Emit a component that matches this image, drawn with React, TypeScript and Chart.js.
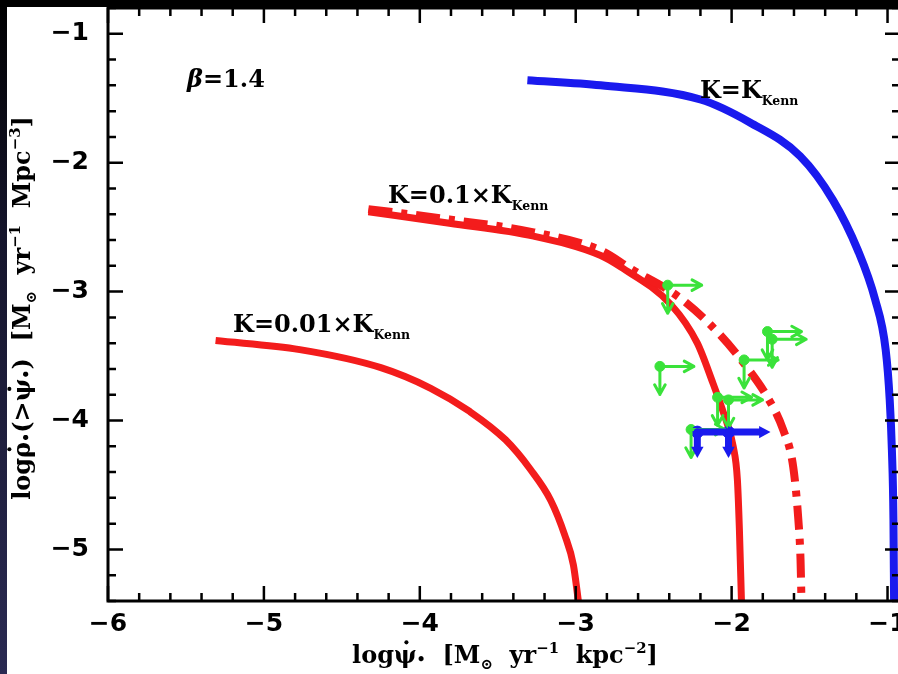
import React, { useEffect, useRef } from "react";
import { Chart, registerables } from "chart.js";

Chart.register(...registerables);

// Axis ranges and tick marks
const xMin = -6;
const xMax = -0.92;
const yMin = -5.4;
const yMax = -0.8;
const xTickValues = [-6, -5, -4, -3, -2, -1];
const yTickValues = [-5, -4, -3, -2, -1];
const minorStep = 0.2;

// K = K_Kenn (solid blue)
const kennX = [-3.31, -2.84, -2.2, -1.88, -1.56, -1.35, -1.19, -1.08, -1.012, -0.986, -0.972, -0.962, -0.958];
const kennY = [-1.36, -1.40, -1.51, -1.69, -1.95, -2.29, -2.68, -3.06, -3.45, -3.84, -4.23, -4.77, -5.40];

// K = 0.1 x K_Kenn (solid red)
const k01X = [-4.33, -3.81, -3.27, -2.84, -2.71, -2.39, -2.22, -2.12, -2.055, -1.99, -1.963, -1.95, -1.937];
const k01Y = [-2.38, -2.47, -2.57, -2.72, -2.81, -3.10, -3.40, -3.71, -3.93, -4.20, -4.46, -4.85, -5.40];

// K = 0.1 x K_Kenn, alternative model (red dash-dot)
const k01bX = [-4.33, -3.81, -3.27, -2.84, -2.65, -2.33, -2.07, -1.90, -1.77, -1.67, -1.605, -1.572, -1.558, -1.552];
const k01bY = [-2.36, -2.44, -2.54, -2.68, -2.82, -3.05, -3.34, -3.59, -3.82, -4.07, -4.36, -4.77, -5.08, -5.40];

// K = 0.01 x K_Kenn (solid red)
const k001X = [-5.31, -4.77, -4.25, -3.93, -3.68, -3.45, -3.29, -3.16, -3.07, -3.015, -2.983];
const k001Y = [-3.38, -3.45, -3.59, -3.75, -3.93, -4.15, -4.38, -4.62, -4.89, -5.12, -5.40];

// Limits (points with arrows to the right and downward)
const greenX = [-2.41, -1.77, -1.74, -1.92, -2.46, -2.09, -2.02, -2.26];
const greenY = [-2.95, -3.31, -3.37, -3.53, -3.58, -3.82, -3.84, -4.07];
const blueX = [-2.22, -2.02];
const blueY = [-4.09, -4.09];

// Curve annotations: [text, subscript, x, y]
const curveLabels: [string, string, number, number][] = [
  ["K=K", "Kenn", -2.203, -1.498],
  ["K=0.1\u00d7K", "Kenn", -4.204, -2.313],
  ["K=0.01\u00d7K", "Kenn", -5.198, -3.313],
];
const betaLabel = { x: -5.493, y: -1.413, value: "1.4" };

const RED = "#f31c1c";
const BLUE = "#1a1aee";
const GREEN = "#3ae23a";
const SERIF = "'DejaVu Serif', serif";

const toPts = (xs: number[], ys: number[]) => xs.map((v, i) => ({ x: v, y: ys[i] }));

const fmt = (v: number | string) => {
  const n = Number(v);
  return n < 0 ? "\u2212" + Math.abs(n) : String(n);
};

type Seg = { t: string; k?: number; dy?: number; dot?: boolean; it?: boolean };

function drawRich(ctx: CanvasRenderingContext2D, segs: Seg[], x: number, y: number, size: number, align: "left" | "center") {
  const fontOf = (s: Seg) => `${s.it ? "italic " : ""}bold ${size * (s.k ?? 1)}px ${SERIF}`;
  let w = 0;
  for (const s of segs) {
    ctx.font = fontOf(s);
    w += ctx.measureText(s.t).width;
  }
  let cx = align === "center" ? x - w / 2 : x;
  ctx.textAlign = "left";
  ctx.textBaseline = "alphabetic";
  for (const s of segs) {
    const fs = size * (s.k ?? 1);
    ctx.font = fontOf(s);
    const sw = ctx.measureText(s.t).width;
    ctx.fillText(s.t, cx, y + (s.dy ?? 0) * size);
    if (s.dot) {
      ctx.beginPath();
      ctx.arc(cx + sw * 0.55, y - fs * 0.86, fs * 0.085, 0, Math.PI * 2);
      ctx.fill();
    }
    cx += sw;
  }
}

function arrow(ctx: CanvasRenderingContext2D, x0: number, y0: number, x1: number, y1: number, head: number, filled: boolean) {
  const ang = Math.atan2(y1 - y0, x1 - x0);
  const a1 = ang + Math.PI - 0.5;
  const a2 = ang + Math.PI + 0.5;
  if (filled) {
    const bx = x1 - head * 0.7 * Math.cos(ang);
    const by = y1 - head * 0.7 * Math.sin(ang);
    ctx.beginPath();
    ctx.moveTo(x0, y0);
    ctx.lineTo(bx, by);
    ctx.stroke();
    ctx.beginPath();
    ctx.moveTo(x1, y1);
    ctx.lineTo(x1 + head * Math.cos(a1), y1 + head * Math.sin(a1));
    ctx.lineTo(x1 + head * Math.cos(a2), y1 + head * Math.sin(a2));
    ctx.closePath();
    ctx.fill();
  } else {
    ctx.beginPath();
    ctx.moveTo(x0, y0);
    ctx.lineTo(x1, y1);
    ctx.moveTo(x1 + head * Math.cos(a1), y1 + head * Math.sin(a1));
    ctx.lineTo(x1, y1);
    ctx.lineTo(x1 + head * Math.cos(a2), y1 + head * Math.sin(a2));
    ctx.stroke();
  }
}

// Arrows marking the limits on the observed points
const limitArrows = {
  id: "limitArrows",
  afterDatasetsDraw(chart: any) {
    const { ctx, scales } = chart;
    const sx = scales.x;
    const sy = scales.y;
    const draw = (xs: number[], ys: number[], color: string, lw: number, lenR: number, lenD: number, head: number, filled: boolean) => {
      ctx.save();
      ctx.strokeStyle = color;
      ctx.fillStyle = color;
      ctx.lineWidth = lw;
      ctx.lineCap = "round";
      ctx.lineJoin = "round";
      xs.forEach((xv, i) => {
        const px = sx.getPixelForValue(xv);
        const py = sy.getPixelForValue(ys[i]);
        arrow(ctx, px, py, px + lenR, py, head, filled);
        arrow(ctx, px, py, px, py + lenD, head, filled);
      });
      ctx.restore();
    };
    draw(greenX, greenY, GREEN, 3, 34, 28, 11, false);
    draw(blueX, blueY, BLUE, 7, 42, 26, 13, true);
  },
};

// Box frame with inward major and minor ticks on all four sides
const frameTicks = {
  id: "frameTicks",
  afterDatasetsDraw(chart: any) {
    const { ctx, chartArea: a, scales } = chart;
    const sx = scales.x;
    const sy = scales.y;
    ctx.save();
    ctx.strokeStyle = "#000";
    ctx.lineWidth = 3;
    ctx.strokeRect(a.left, a.top, a.right - a.left, a.bottom - a.top);
    ctx.lineWidth = 2.5;
    ctx.beginPath();
    const nx = Math.round((xMax - xMin) / minorStep);
    for (let i = 0; i <= nx; i++) {
      const v = xMin + i * minorStep;
      if (v > xMax) break;
      const major = Math.abs(v - Math.round(v)) < 1e-6;
      const len = major ? 15 : 8;
      const px = sx.getPixelForValue(v);
      ctx.moveTo(px, a.bottom);
      ctx.lineTo(px, a.bottom - len);
      ctx.moveTo(px, a.top);
      ctx.lineTo(px, a.top + len);
    }
    const ny = Math.round((yMax - yMin) / minorStep);
    for (let i = 0; i <= ny; i++) {
      const v = yMin + i * minorStep;
      const major = Math.abs(v - Math.round(v)) < 1e-6;
      const len = major ? 15 : 8;
      const py = sy.getPixelForValue(v);
      ctx.moveTo(a.left, py);
      ctx.lineTo(a.left + len, py);
      ctx.moveTo(a.right, py);
      ctx.lineTo(a.right - len, py);
    }
    ctx.stroke();
    ctx.restore();
  },
};

// Axis titles and curve annotations
const textLayer = {
  id: "textLayer",
  afterDraw(chart: any) {
    const { ctx, scales } = chart;
    const sx = scales.x;
    const sy = scales.y;
    ctx.save();
    ctx.fillStyle = "#000";

    const xTitle: Seg[] = [
      { t: "log" },
      { t: "\u03c8", dot: true },
      { t: "\u2022", k: 0.6, dy: 0.05 },
      { t: "  [M" },
      { t: "\u2299", k: 0.62, dy: 0.25 },
      { t: "  yr" },
      { t: "\u22121", k: 0.62, dy: -0.42 },
      { t: "  kpc" },
      { t: "\u22122", k: 0.62, dy: -0.42 },
      { t: "]" },
    ];
    drawRich(ctx, xTitle, 505, 663, 24, "center");

    const yTitle: Seg[] = [
      { t: "log" },
      { t: "\u03c1", dot: true },
      { t: "\u2022", k: 0.6, dy: 0.05 },
      { t: "(>" },
      { t: "\u03c8", dot: true },
      { t: "\u2022", k: 0.6, dy: 0.05 },
      { t: ")  [M" },
      { t: "\u2299", k: 0.62, dy: 0.25 },
      { t: "  yr" },
      { t: "\u22121", k: 0.62, dy: -0.42 },
      { t: "  Mpc" },
      { t: "\u22123", k: 0.62, dy: -0.42 },
      { t: "]" },
    ];
    ctx.save();
    ctx.translate(30, 308);
    ctx.rotate(-Math.PI / 2);
    drawRich(ctx, yTitle, 0, 0, 24, "center");
    ctx.restore();

    // beta label
    drawRich(
      ctx,
      [{ t: "\u03b2", it: true }, { t: "=" + betaLabel.value }],
      sx.getPixelForValue(betaLabel.x),
      sy.getPixelForValue(betaLabel.y),
      24,
      "left"
    );

    for (const [main, sub, lx, ly] of curveLabels) {
      drawRich(
        ctx,
        [{ t: main }, { t: sub, k: 0.52, dy: 0.3 }],
        sx.getPixelForValue(lx),
        sy.getPixelForValue(ly),
        24,
        "left"
      );
    }
    ctx.restore();
  },
};

export default function App() {
  const ref = useRef<HTMLCanvasElement | null>(null);

  useEffect(() => {
    if (!ref.current) return;
    const tickFont = { family: "'DejaVu Sans', sans-serif", size: 25, weight: "bold" as const };
    // invisible axis ticks only offset the labels; the visible ticks are drawn inward by frameTicks
    const hiddenGrid = (len: number) => ({
      display: true,
      drawOnChartArea: false,
      drawTicks: true,
      tickLength: len,
      color: "rgba(0,0,0,0)",
    });
    const chart = new Chart(ref.current, {
      type: "scatter",
      data: {
        datasets: [
          {
            label: "limits (blue)",
            data: toPts(blueX, blueY),
            pointRadius: 6,
            pointBackgroundColor: BLUE,
            pointBorderColor: BLUE,
            showLine: false,
          },
          {
            label: "limits (green)",
            data: toPts(greenX, greenY),
            pointRadius: 5,
            pointBackgroundColor: GREEN,
            pointBorderColor: GREEN,
            showLine: false,
          },
          {
            label: "K=K_Kenn",
            data: toPts(kennX, kennY),
            showLine: true,
            borderColor: BLUE,
            borderWidth: 8,
            pointRadius: 0,
            cubicInterpolationMode: "monotone",
          },
          {
            label: "K=0.1xK_Kenn (dash-dot)",
            data: toPts(k01bX, k01bY),
            showLine: true,
            borderColor: RED,
            borderWidth: 8,
            borderDash: [24, 9, 6, 9],
            pointRadius: 0,
            cubicInterpolationMode: "monotone",
          },
          {
            label: "K=0.1xK_Kenn",
            data: toPts(k01X, k01Y),
            showLine: true,
            borderColor: RED,
            borderWidth: 7,
            pointRadius: 0,
            cubicInterpolationMode: "monotone",
          },
          {
            label: "K=0.01xK_Kenn",
            data: toPts(k001X, k001Y),
            showLine: true,
            borderColor: RED,
            borderWidth: 7,
            pointRadius: 0,
            cubicInterpolationMode: "monotone",
          },
        ],
      },
      options: {
        responsive: false,
        maintainAspectRatio: false,
        devicePixelRatio: 1,
        animation: false,
        layout: { padding: { top: 8, right: 20, bottom: 0, left: 0 } },
        plugins: { legend: { display: false }, tooltip: { enabled: false } },
        scales: {
          x: {
            type: "linear",
            min: xMin,
            max: xMax,
            grid: hiddenGrid(7),
            border: { display: false },
            ticks: { font: tickFont, color: "#000", padding: 1, callback: fmt },
            afterBuildTicks: (s: any) => {
              s.ticks = xTickValues.map((v) => ({ value: v }));
            },
            afterFit: (s: any) => {
              s.height = 73;
              s.paddingLeft = 0;
              s.paddingRight = 0;
            },
          },
          y: {
            type: "linear",
            min: yMin,
            max: yMax,
            grid: hiddenGrid(18),
            border: { display: false },
            ticks: { font: tickFont, color: "#000", padding: 1, callback: fmt },
            afterBuildTicks: (s: any) => {
              s.ticks = yTickValues.map((v) => ({ value: v }));
            },
            afterFit: (s: any) => {
              s.width = 108;
              s.paddingTop = 0;
              s.paddingBottom = 0;
            },
          },
        },
      },
      plugins: [limitArrows, frameTicks, textLayer],
    });
    return () => chart.destroy();
  }, []);

  return (
    <div
      style={{
        position: "fixed",
        left: 0,
        top: 0,
        width: 898,
        height: 674,
        overflow: "hidden",
        background: "linear-gradient(to bottom, #000 0%, #15152c 35%, #2a2a52 100%)",
      }}
    >
      <div style={{ position: "absolute", left: 0, top: 0, width: 898, height: 7, background: "#000" }} />
      <div style={{ position: "absolute", left: 7, top: 7, width: 891, height: 667, background: "#fff" }} />
      <canvas ref={ref} width={920} height={674} style={{ position: "absolute", left: 0, top: 0, display: "block" }} />
    </div>
  );
}
